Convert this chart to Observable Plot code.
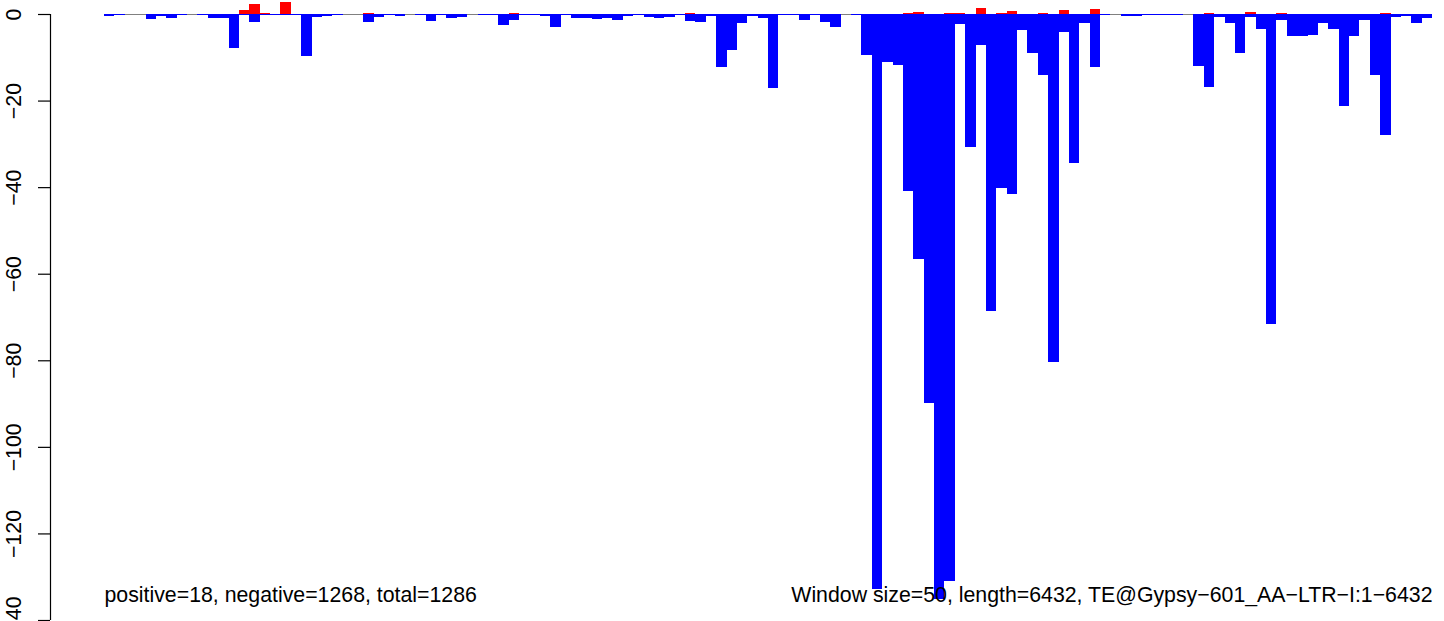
<!DOCTYPE html>
<html>
<head>
<meta charset="utf-8">
<script src="https://cdn.jsdelivr.net/npm/d3@7"></script>
<script src="https://cdn.jsdelivr.net/npm/@observablehq/plot@0.6"></script>
<style>
  html, body { margin: 0; padding: 0; background: #ffffff; }
  #chart svg { display: block; overflow: visible; }
</style>
</head>
<body>
<div id="chart"></div>
<script>
// ---- data ----
const windowSize = 50;
const seqLength = 6432;
const positiveCount = 18;
const negativeCount = 1268;
const teName = "TE@Gypsy\u2212601_AA\u2212LTR\u2212I";

// antisense (negative) signal per 50-nt window, 128 windows
const negative = [
  -0.5, -0.2, 0, 0, -1.2, -0.4, -0.9, -0.2, 0, -0.2,
  -0.9, -0.9, -7.8, -0.2, -1.8, -0.2, -0.2, -0.2, -0.2, -9.7,
  -0.7, -0.4, -0.2, 0, 0, -1.85, -0.7, -0.2, -0.4, 0,
  -0.2, -1.6, -0.3, -0.9, -0.7, 0, -0.3, -0.3, -2.5, -1.4,
  -0.2, -0.2, -0.45, -3.0, -0.3, -0.9, -0.9, -1.15, -0.9, -1.4,
  -0.45, -0.2, -0.7, -0.9, -0.7, -0.2, -1.6, -1.85, -0.45, -12.2,
  -8.3, -2.1, -0.45, -0.9, -17.1, -0.2, -0.2, -1.4, -0.2, -1.85,
  -3.0, 0, -0.2, -9.5, -132.8, -11.2, -11.8, -40.9, -56.7, -89.8,
  -135.2, -131.1, -2.4, -30.8, -7.2, -68.6, -40.1, -41.5, -3.8, -9.1,
  -14.0, -80.4, -4.2, -34.5, -2.0, -12.3, -0.2, 0, -0.4, -0.4,
  -0.15, -0.15, -0.15, -0.15, 0, -12.0, -16.8, -0.7, -2.1, -9.0,
  -0.7, -3.5, -71.7, -1.4, -5.1, -5.1, -4.85, -2.1, -3.5, -21.2,
  -5.1, -1.4, -14.1, -27.9, -0.7, -0.4, -2.1, -0.9
];

// sense (positive) signal per window
const positive = [
  0, 0, 0, 0, 0, 0, 0, 0, 0, 0,
  0, 0, 0, 0.9, 2.3, 0.25, 0, 2.8, 0, 0,
  0, 0, 0, 0, 0, 0.2, 0, 0, 0, 0,
  0, 0, 0, 0, 0, 0, 0, 0, 0, 0.25,
  0, 0, 0, 0, 0, 0, 0, 0, 0, 0,
  0, 0, 0, 0, 0, 0, 0.2, 0, 0, 0,
  0, 0, 0, 0, 0, 0, 0, 0, 0, 0,
  0, 0, 0, 0, 0, 0, 0, 0.2, 0.45, 0,
  0, 0.25, 0.2, 0, 1.4, 0, 0.2, 0.65, 0.1, 0,
  0.2, 0, 0.9, 0, 0, 1.15, 0, 0, 0, 0,
  0, 0, 0, 0, 0, 0, 0.2, 0, 0, 0,
  0.45, 0, 0, 0.2, 0, 0, 0, 0, 0, 0,
  0, 0, 0, 0.2, 0, 0, 0, 0
];

const yTicks = [0, -20, -40, -60, -80, -100, -120, -140];

const leftCaption = `positive=${positiveCount}, negative=${negativeCount}, total=${positiveCount + negativeCount}`;
const rightCaption = `Window size=${windowSize}, length=${seqLength}, ${teName}:1\u2212${seqLength}`;

// ---- build table ----
const windows = negative.map((v, i) => ({ i, neg: v, pos: positive[i] }));
const nWin = windows.length;
const fmt = d => (d < 0 ? "\u2212" + (-d) : String(d));
const FS = 21.3;

const chart = Plot.plot({
  width: 1444,
  height: 621,
  marginLeft: 50,
  marginRight: 12,
  marginTop: 14,
  marginBottom: 1,
  style: { fontFamily: "'Liberation Sans', Arial, Helvetica, sans-serif", fontSize: "21px", color: "black", background: "white" },
  x: { type: "linear", domain: [0, nWin], range: [104, 1432], axis: null },
  y: { domain: [-140, 0], axis: null },
  marks: [
    // baseline
    Plot.ruleY([0], { x1: () => 0, x2: () => nWin, stroke: "#808080", strokeWidth: 1 }),
    // negative bars
    Plot.rectY(windows, { x1: d => d.i, x2: d => d.i + 1, y1: () => 0, y2: d => d.neg, fill: "#0000ff", shapeRendering: "crispEdges" }),
    // positive bars
    Plot.rectY(windows, { x1: d => d.i, x2: d => d.i + 1, y1: () => 0, y2: d => d.pos, fill: "#ff0000", shapeRendering: "crispEdges" }),
    // y axis line
    Plot.ruleX([0], { dx: -54, stroke: "black", strokeWidth: 1.2 }),
    // y ticks
    Plot.axisY({ ticks: yTicks, tickSize: 12, tickFormat: () => "", stroke: "black", strokeWidth: 1.2, anchor: "left" }),
    // y tick labels (rotated, R style)
    Plot.text(yTicks, { y: d => d, text: fmt, frameAnchor: "left", dx: -30, rotate: -90, textAnchor: "middle", lineAnchor: "bottom", fontSize: FS, fill: "black" }),
    // captions
    Plot.text([leftCaption], { x: () => 0, text: d => d, frameAnchor: "bottom", dy: -18.5, textAnchor: "start", lineAnchor: "bottom", fontSize: FS, fill: "black" }),
    Plot.text([rightCaption], { x: () => nWin, text: d => d, frameAnchor: "bottom", dy: -18.5, textAnchor: "end", lineAnchor: "bottom", fontSize: FS, fill: "black" })
  ]
});

document.getElementById("chart").appendChild(chart);
</script>
</body>
</html>
